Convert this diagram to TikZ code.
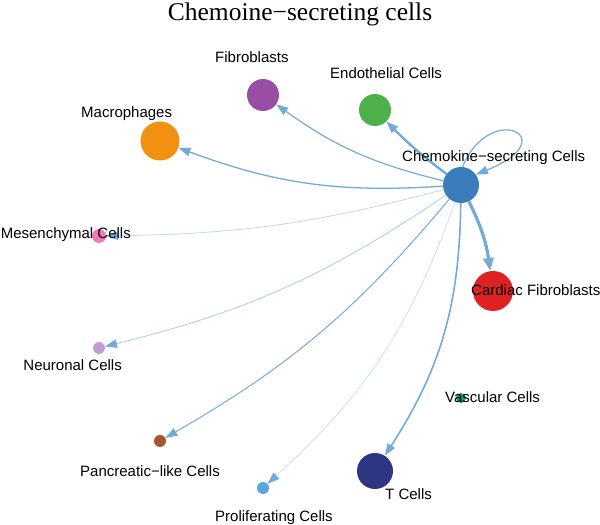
\documentclass[tikz,border=0pt]{standalone}
\usepackage{fontspec}
\setmainfont{Liberation Serif}
\newfontfamily\labfont{Liberation Sans}
\usetikzlibrary{arrows.meta}
\definecolor{edgeblue}{HTML}{74AAD8}
\definecolor{hubblue}{HTML}{3A7DBB}
\definecolor{fibpurple}{HTML}{984EA3}
\definecolor{endogreen}{HTML}{4DB04A}
\definecolor{macorange}{HTML}{F29111}
\definecolor{mespink}{HTML}{EE7BB6}
\definecolor{neulav}{HTML}{C49CD4}
\definecolor{cardred}{HTML}{DE2222}
\definecolor{vascteal}{HTML}{1BA070}
\definecolor{pancbrown}{HTML}{A65628}
\definecolor{prolblue}{HTML}{56A8DB}
\definecolor{tnavy}{HTML}{2E3583}
\begin{document}
\begin{tikzpicture}[x=1pt,y=1pt,
  vtx/.style={circle, inner sep=0pt, draw=none},
  lbl/.style={font=\labfont\fontsize{15}{18}\selectfont, inner sep=0pt, text=black},
  edge/.style={draw=edgeblue, -{Triangle[length=12pt,width=8.5pt,color=edgeblue]}},
  bigedge/.style={draw=edgeblue, -{Triangle[length=13pt,width=10pt,color=edgeblue]}},
]
\useasboundingbox (0,0) rectangle (600,525);

% vertices
\node[vtx, fill=hubblue, minimum size=36pt] (hub) at (461,340) {};
\node[vtx, fill=fibpurple, minimum size=32pt] (fib) at (263,430) {};
\node[vtx, fill=endogreen, minimum size=32pt] (endo) at (375,415) {};
\node[vtx, fill=macorange, minimum size=39pt] (mac) at (160,384) {};
\node[vtx, fill=mespink, minimum size=14pt] (mes) at (99,289) {};
\node[vtx, fill=neulav, minimum size=12pt] (neu) at (99,177) {};
\node[vtx, fill=cardred, minimum size=40pt] (card) at (493,234) {};
\node[vtx, fill=vascteal, minimum size=10pt] (vasc) at (461,127) {};
\node[vtx, fill=pancbrown, minimum size=12pt] (panc) at (160,84) {};
\node[vtx, fill=prolblue, minimum size=12pt] (prol) at (263,37) {};
\node[vtx, fill=tnavy, minimum size=36pt] (tc) at (375,54) {};

% edges
\draw[edge, line width=1.3pt] (hub) to[bend left=12] (mac);
\draw[edge, line width=1.2pt] (hub) to[bend left=11] (fib);
\draw[edge, line width=2.4pt] (hub) to[bend left=4] (endo);
\draw[edge, draw=edgeblue!45, line width=0.8pt] (hub) to[bend left=7] (mes);
\draw[edge, draw=edgeblue!60, line width=0.8pt] (hub) to[bend left=10] (neu);
\draw[edge, line width=1.0pt] (hub) to[bend left=10] (panc);
\draw[edge, draw=edgeblue!45, line width=0.6pt] (hub) to[bend left=14] (prol);
\draw[edge, line width=1.6pt] (hub) to[bend left=16] (tc);
\draw[bigedge, line width=3.2pt] (hub) to[bend left=9] (card);
\draw[edge, line width=1.2pt] (hub.85) .. controls +(68:72) and +(22:98) .. (hub.35);

% labels
\node[font=\fontsize{25.5}{30}\selectfont, anchor=base, inner sep=0pt] (title) at (300,504) {Chemoine−secreting cells};
\node[lbl, anchor=base west] (lfib) at (215,462) {Fibroblasts};
\node[lbl, anchor=base west] (lendo) at (330,446) {Endothelial Cells};
\node[lbl, anchor=base west] (lmac) at (81,407) {Macrophages};
\node[lbl, anchor=base west] (lhub) at (402,363) {Chemokine−secreting Cells};
\node[lbl, anchor=base east] (lmes) at (131,286) {Mesenchymal Cells};
\node[lbl, anchor=base east] (lneu) at (122,154) {Neuronal Cells};
\node[lbl, anchor=base west] (lcard) at (471,229) {Cardiac Fibroblasts};
\node[lbl, anchor=base west] (lvasc) at (445,122) {Vascular Cells};
\node[lbl, anchor=base east] (lpanc) at (220,48) {Pancreatic−like Cells};
\node[lbl, anchor=base west] (lprol) at (215,4) {Proliferating Cells};
\node[lbl, anchor=base west] (ltc) at (385,25) {T Cells};
\end{tikzpicture}
\end{document}
